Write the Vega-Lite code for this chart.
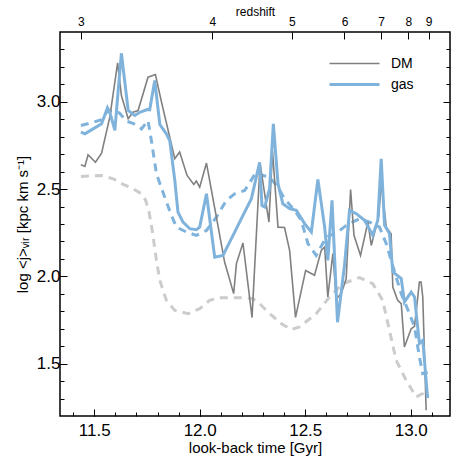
{
  "$schema": "https://vega.github.io/schema/vega-lite/v6.json",
  "width": 390,
  "height": 384,
  "autosize": "none",
  "padding": {"left": 60, "top": 32, "right": 13, "bottom": 47},
  "background": "white",
  "config": {
    "view": {"stroke": "black", "strokeWidth": 1.5},
    "axis": {
      "domain": false, "grid": false, "tickColor": "black", "tickWidth": 1,
      "labelFont": "Liberation Sans", "labelFontSize": 17, "labelColor": "black",
      "titleFont": "Liberation Sans", "titleFontSize": 15, "titleFontWeight": "normal", "titleColor": "black"
    },
    "legend": {"labelFont": "Liberation Sans", "labelFontSize": 14, "labelColor": "black"}
  },
  "datasets": {
    "dm": [
      {"t": 11.437, "v": 2.639, "series": "DM"}, {"t": 11.456, "v": 2.630, "series": "DM"},
      {"t": 11.471, "v": 2.697, "series": "DM"}, {"t": 11.506, "v": 2.654, "series": "DM"},
      {"t": 11.535, "v": 2.706, "series": "DM"}, {"t": 11.574, "v": 2.912, "series": "DM"},
      {"t": 11.611, "v": 3.223, "series": "DM"}, {"t": 11.629, "v": 3.036, "series": "DM"},
      {"t": 11.661, "v": 2.903, "series": "DM"}, {"t": 11.684, "v": 2.940, "series": "DM"},
      {"t": 11.708, "v": 2.950, "series": "DM"}, {"t": 11.755, "v": 3.141, "series": "DM"},
      {"t": 11.790, "v": 3.156, "series": "DM"}, {"t": 11.819, "v": 2.998, "series": "DM"},
      {"t": 11.882, "v": 2.674, "series": "DM"}, {"t": 11.905, "v": 2.712, "series": "DM"},
      {"t": 11.940, "v": 2.578, "series": "DM"}, {"t": 11.972, "v": 2.527, "series": "DM"},
      {"t": 11.984, "v": 2.546, "series": "DM"}, {"t": 12.000, "v": 2.511, "series": "DM"},
      {"t": 12.032, "v": 2.649, "series": "DM"}, {"t": 12.079, "v": 2.339, "series": "DM"},
      {"t": 12.118, "v": 2.082, "series": "DM"}, {"t": 12.161, "v": 1.901, "series": "DM"},
      {"t": 12.174, "v": 2.073, "series": "DM"}, {"t": 12.205, "v": 2.191, "series": "DM"},
      {"t": 12.248, "v": 1.764, "series": "DM"}, {"t": 12.286, "v": 2.647, "series": "DM"},
      {"t": 12.328, "v": 2.311, "series": "DM"}, {"t": 12.345, "v": 2.718, "series": "DM"},
      {"t": 12.371, "v": 2.282, "series": "DM"}, {"t": 12.402, "v": 2.280, "series": "DM"},
      {"t": 12.426, "v": 2.149, "series": "DM"}, {"t": 12.454, "v": 1.765, "series": "DM"},
      {"t": 12.502, "v": 2.034, "series": "DM"}, {"t": 12.544, "v": 2.006, "series": "DM"},
      {"t": 12.576, "v": 2.149, "series": "DM"}, {"t": 12.592, "v": 2.168, "series": "DM"},
      {"t": 12.607, "v": 1.882, "series": "DM"}, {"t": 12.631, "v": 2.130, "series": "DM"},
      {"t": 12.647, "v": 1.872, "series": "DM"}, {"t": 12.671, "v": 1.901, "series": "DM"},
      {"t": 12.694, "v": 1.987, "series": "DM"}, {"t": 12.715, "v": 2.498, "series": "DM"},
      {"t": 12.731, "v": 2.235, "series": "DM"}, {"t": 12.762, "v": 2.120, "series": "DM"},
      {"t": 12.797, "v": 2.311, "series": "DM"}, {"t": 12.813, "v": 2.177, "series": "DM"},
      {"t": 12.849, "v": 2.349, "series": "DM"}, {"t": 12.860, "v": 2.540, "series": "DM"},
      {"t": 12.884, "v": 2.282, "series": "DM"}, {"t": 12.907, "v": 2.244, "series": "DM"},
      {"t": 12.915, "v": 1.939, "series": "DM"}, {"t": 12.938, "v": 1.863, "series": "DM"},
      {"t": 12.955, "v": 1.844, "series": "DM"}, {"t": 12.970, "v": 1.595, "series": "DM"},
      {"t": 13.002, "v": 1.700, "series": "DM"}, {"t": 13.018, "v": 1.714, "series": "DM"},
      {"t": 13.041, "v": 1.967, "series": "DM"}, {"t": 13.049, "v": 1.967, "series": "DM"},
      {"t": 13.057, "v": 1.882, "series": "DM"}, {"t": 13.073, "v": 1.233, "series": "DM"}
    ],
    "gas": [
      {"t": 11.437, "v": 2.826, "series": "gas"}, {"t": 11.456, "v": 2.817, "series": "gas"},
      {"t": 11.495, "v": 2.845, "series": "gas"}, {"t": 11.535, "v": 2.874, "series": "gas"},
      {"t": 11.563, "v": 2.966, "series": "gas"}, {"t": 11.574, "v": 2.940, "series": "gas"},
      {"t": 11.598, "v": 2.836, "series": "gas"}, {"t": 11.613, "v": 3.055, "series": "gas"},
      {"t": 11.629, "v": 3.278, "series": "gas"}, {"t": 11.661, "v": 2.950, "series": "gas"},
      {"t": 11.692, "v": 2.922, "series": "gas"}, {"t": 11.716, "v": 2.940, "series": "gas"},
      {"t": 11.751, "v": 2.956, "series": "gas"}, {"t": 11.763, "v": 2.954, "series": "gas"},
      {"t": 11.787, "v": 3.122, "series": "gas"}, {"t": 11.811, "v": 2.870, "series": "gas"},
      {"t": 11.842, "v": 2.817, "series": "gas"}, {"t": 11.858, "v": 2.778, "series": "gas"},
      {"t": 11.882, "v": 2.550, "series": "gas"}, {"t": 11.897, "v": 2.368, "series": "gas"},
      {"t": 11.921, "v": 2.311, "series": "gas"}, {"t": 11.953, "v": 2.273, "series": "gas"},
      {"t": 11.984, "v": 2.267, "series": "gas"}, {"t": 12.000, "v": 2.282, "series": "gas"},
      {"t": 12.032, "v": 2.473, "series": "gas"}, {"t": 12.071, "v": 2.110, "series": "gas"},
      {"t": 12.110, "v": 2.120, "series": "gas"}, {"t": 12.158, "v": 2.235, "series": "gas"},
      {"t": 12.205, "v": 2.349, "series": "gas"}, {"t": 12.245, "v": 2.445, "series": "gas"},
      {"t": 12.284, "v": 2.654, "series": "gas"}, {"t": 12.295, "v": 2.406, "series": "gas"},
      {"t": 12.308, "v": 2.397, "series": "gas"}, {"t": 12.331, "v": 2.502, "series": "gas"},
      {"t": 12.349, "v": 2.874, "series": "gas"}, {"t": 12.371, "v": 2.531, "series": "gas"},
      {"t": 12.394, "v": 2.416, "series": "gas"}, {"t": 12.426, "v": 2.388, "series": "gas"},
      {"t": 12.458, "v": 2.378, "series": "gas"}, {"t": 12.497, "v": 2.302, "series": "gas"},
      {"t": 12.529, "v": 2.254, "series": "gas"}, {"t": 12.560, "v": 2.555, "series": "gas"},
      {"t": 12.592, "v": 2.282, "series": "gas"}, {"t": 12.607, "v": 2.092, "series": "gas"},
      {"t": 12.627, "v": 2.435, "series": "gas"}, {"t": 12.653, "v": 1.737, "series": "gas"},
      {"t": 12.686, "v": 2.063, "series": "gas"}, {"t": 12.710, "v": 2.378, "series": "gas"},
      {"t": 12.742, "v": 2.359, "series": "gas"}, {"t": 12.781, "v": 2.321, "series": "gas"},
      {"t": 12.820, "v": 2.235, "series": "gas"}, {"t": 12.844, "v": 2.321, "series": "gas"},
      {"t": 12.860, "v": 2.674, "series": "gas"}, {"t": 12.876, "v": 2.292, "series": "gas"},
      {"t": 12.899, "v": 2.246, "series": "gas"}, {"t": 12.915, "v": 2.025, "series": "gas"},
      {"t": 12.955, "v": 1.987, "series": "gas"}, {"t": 12.970, "v": 1.853, "series": "gas"},
      {"t": 13.002, "v": 1.910, "series": "gas"}, {"t": 13.018, "v": 1.882, "series": "gas"},
      {"t": 13.041, "v": 1.615, "series": "gas"}, {"t": 13.057, "v": 1.634, "series": "gas"},
      {"t": 13.080, "v": 1.302, "series": "gas"}
    ],
    "gasd": [
      {"t": 11.437, "v": 2.864}, {"t": 11.495, "v": 2.883}, {"t": 11.535, "v": 2.897},
      {"t": 11.558, "v": 2.940}, {"t": 11.590, "v": 2.950}, {"t": 11.621, "v": 2.935},
      {"t": 11.653, "v": 2.889}, {"t": 11.684, "v": 2.877}, {"t": 11.724, "v": 2.845},
      {"t": 11.755, "v": 2.893}, {"t": 11.771, "v": 2.778}, {"t": 11.795, "v": 2.588},
      {"t": 11.834, "v": 2.454}, {"t": 11.866, "v": 2.349}, {"t": 11.890, "v": 2.282},
      {"t": 11.937, "v": 2.254}, {"t": 11.984, "v": 2.235}, {"t": 12.032, "v": 2.263},
      {"t": 12.079, "v": 2.339}, {"t": 12.126, "v": 2.435}, {"t": 12.166, "v": 2.473},
      {"t": 12.213, "v": 2.492}, {"t": 12.268, "v": 2.597}, {"t": 12.300, "v": 2.578},
      {"t": 12.331, "v": 2.568}, {"t": 12.371, "v": 2.511}, {"t": 12.402, "v": 2.445},
      {"t": 12.450, "v": 2.378}, {"t": 12.481, "v": 2.321}, {"t": 12.513, "v": 2.187},
      {"t": 12.552, "v": 2.120}, {"t": 12.600, "v": 2.225}, {"t": 12.655, "v": 2.254},
      {"t": 12.694, "v": 2.292}, {"t": 12.757, "v": 2.330}, {"t": 12.805, "v": 2.311},
      {"t": 12.852, "v": 2.282}, {"t": 12.884, "v": 2.187}, {"t": 12.907, "v": 2.092},
      {"t": 12.931, "v": 1.996}, {"t": 12.955, "v": 1.901}, {"t": 12.994, "v": 1.786},
      {"t": 13.018, "v": 1.710}, {"t": 13.041, "v": 1.538}, {"t": 13.057, "v": 1.443},
      {"t": 13.080, "v": 1.450}
    ],
    "dmd": [
      {"t": 11.437, "v": 2.572}, {"t": 11.535, "v": 2.578}, {"t": 11.590, "v": 2.559},
      {"t": 11.637, "v": 2.527}, {"t": 11.684, "v": 2.502}, {"t": 11.724, "v": 2.473},
      {"t": 11.744, "v": 2.435}, {"t": 11.760, "v": 2.368}, {"t": 11.775, "v": 2.263},
      {"t": 11.795, "v": 2.092}, {"t": 11.811, "v": 1.977}, {"t": 11.842, "v": 1.863},
      {"t": 11.882, "v": 1.805}, {"t": 11.945, "v": 1.786}, {"t": 12.000, "v": 1.815},
      {"t": 12.047, "v": 1.863}, {"t": 12.095, "v": 1.878}, {"t": 12.189, "v": 1.878},
      {"t": 12.252, "v": 1.872}, {"t": 12.284, "v": 1.844}, {"t": 12.323, "v": 1.796},
      {"t": 12.387, "v": 1.729}, {"t": 12.434, "v": 1.695}, {"t": 12.473, "v": 1.710},
      {"t": 12.552, "v": 1.786}, {"t": 12.615, "v": 1.882}, {"t": 12.678, "v": 1.958},
      {"t": 12.757, "v": 1.993}, {"t": 12.820, "v": 1.958}, {"t": 12.867, "v": 1.863},
      {"t": 12.899, "v": 1.691}, {"t": 12.931, "v": 1.519}, {"t": 12.978, "v": 1.405},
      {"t": 13.026, "v": 1.309}, {"t": 13.057, "v": 1.329}, {"t": 13.073, "v": 1.366}
    ]
  },
  "resolve": {"axis": {"x": "independent", "y": "independent"}},
  "layer": [
    {
      "data": {"name": "dmd"},
      "mark": {"type": "line", "color": "#cccccc", "strokeWidth": 3, "strokeDash": [8, 6], "clip": true},
      "encoding": {
        "x": {"field": "t", "type": "quantitative", "scale": {"domain": [11.338, 13.186], "nice": false, "zero": false},
          "axis": {"orient": "bottom", "values": [11.5, 12.0, 12.5, 13.0], "format": ".1f", "tickSize": -7, "labelPadding": 13, "title": "look-back time [Gyr]", "titlePadding": 2}},
        "y": {"field": "v", "type": "quantitative", "scale": {"domain": [1.2, 3.4], "nice": false, "zero": false},
          "axis": {"orient": "left", "values": [1.5, 2.0, 2.5, 3.0], "format": ".1f", "tickSize": -7, "labelPadding": 7, "title": "log <j>ᵥᵢᵣ [kpc km s⁻¹]", "titlePadding": 6}}
      }
    },
    {
      "data": {"name": "gasd"},
      "mark": {"type": "line", "color": "#7fb3dc", "strokeWidth": 3, "strokeDash": [8, 6], "clip": true},
      "encoding": {
        "x": {"field": "t", "type": "quantitative",
          "axis": {"orient": "bottom", "values": [11.4, 11.5, 11.6, 11.7, 11.8, 11.9, 12.0, 12.1, 12.2, 12.3, 12.4, 12.5, 12.6, 12.7, 12.8, 12.9, 13.0, 13.1], "labels": false, "tickSize": -4, "title": null}},
        "y": {"field": "v", "type": "quantitative",
          "axis": {"orient": "left", "values": [1.3, 1.4, 1.5, 1.6, 1.7, 1.8, 1.9, 2.0, 2.1, 2.2, 2.3, 2.4, 2.5, 2.6, 2.7, 2.8, 2.9, 3.0, 3.1, 3.2, 3.3], "labels": false, "tickSize": -4, "title": null}}
      }
    },
    {
      "data": {"name": "dm"},
      "mark": {"type": "line", "clip": true},
      "encoding": {
        "x": {"field": "t", "type": "quantitative",
          "axis": {"orient": "top", "values": [11.437, 12.06, 12.437, 12.686, 12.86, 12.989, 13.085], "tickSize": -7, "labelPadding": 11, "labelFontSize": 12,
            "labelExpr": "datum.value < 11.8 ? '3' : datum.value < 12.2 ? '4' : datum.value < 12.5 ? '5' : datum.value < 12.75 ? '6' : datum.value < 12.9 ? '7' : datum.value < 13.03 ? '8' : '9'",
            "title": "redshift", "titleFontSize": 12, "titlePadding": -3}},
        "y": {"field": "v", "type": "quantitative",
          "axis": {"orient": "right", "values": [1.5, 2.0, 2.5, 3.0], "labels": false, "tickSize": -7, "title": null}},
        "color": {"field": "series", "type": "nominal", "scale": {"domain": ["DM", "gas"], "range": ["#808080", "#7fb3dc"]},
          "legend": {"title": null, "orient": "none", "legendX": 268, "legendY": 22, "symbolType": "stroke", "symbolSize": 2500, "clipHeight": 19, "labelOffset": 10}},
        "strokeWidth": {"field": "series", "type": "nominal", "scale": {"domain": ["DM", "gas"], "range": [1.6, 3]},
          "legend": {"title": null, "orient": "none", "legendX": 268, "legendY": 22, "symbolType": "stroke", "symbolSize": 2500, "clipHeight": 19, "labelOffset": 10}}
      }
    },
    {
      "data": {"name": "gas"},
      "mark": {"type": "line", "clip": true},
      "encoding": {
        "x": {"field": "t", "type": "quantitative", "axis": null},
        "y": {"field": "v", "type": "quantitative",
          "axis": {"orient": "right", "values": [1.3, 1.4, 1.5, 1.6, 1.7, 1.8, 1.9, 2.0, 2.1, 2.2, 2.3, 2.4, 2.5, 2.6, 2.7, 2.8, 2.9, 3.0, 3.1, 3.2, 3.3], "labels": false, "tickSize": -4, "title": null}},
        "color": {"field": "series", "type": "nominal"},
        "strokeWidth": {"field": "series", "type": "nominal"}
      }
    }
  ]
}
